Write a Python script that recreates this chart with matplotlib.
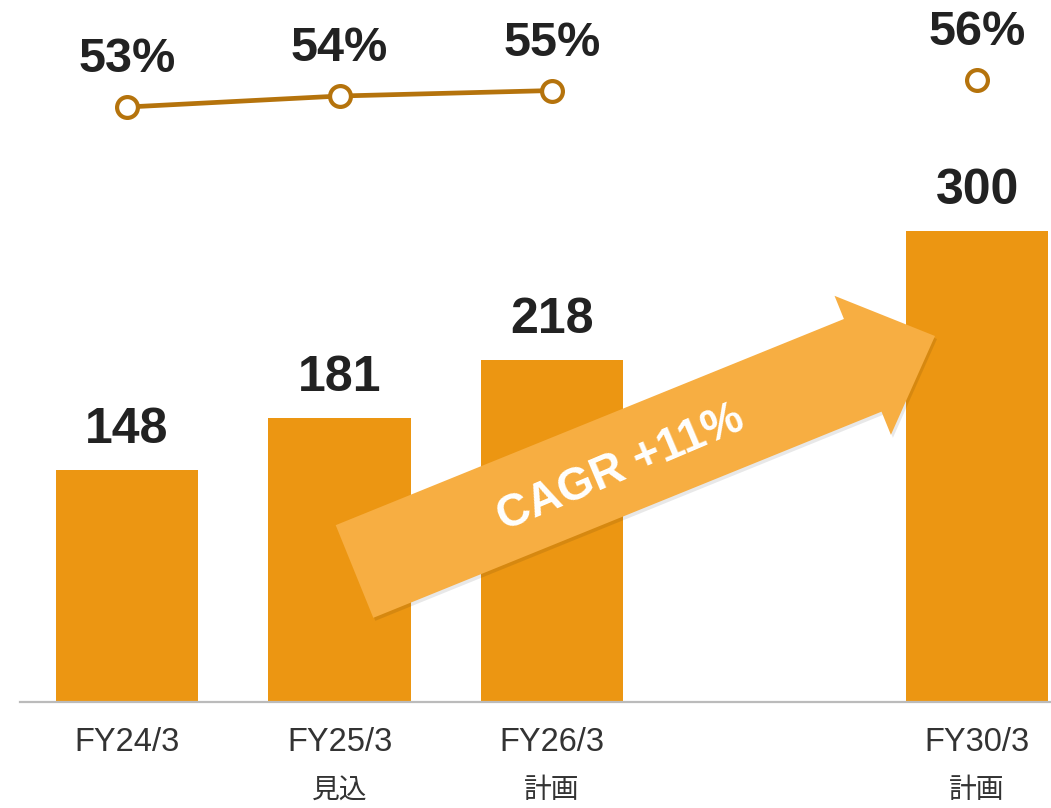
import matplotlib.pyplot as plt
from matplotlib.patches import FancyArrow
from matplotlib.transforms import IdentityTransform

plt.rcParams['font.family'] = ['Liberation Sans', 'Noto Sans CJK JP', 'DejaVu Sans']

# data
periods = ['FY24/3', 'FY25/3', 'FY26/3', 'FY30/3']
notes = ['', '見込', '計画', '計画']
x_pos = [0, 1, 2, 4]
sales = [148, 181, 218, 300]
rates = [53.2, 54.2, 54.7, 55.7]
rate_labels = ['53%', '54%', '55%', '56%']
cagr_text = 'CAGR +11%'

BAR = '#EC9612'
LINE = '#B5730C'
ARROW = '#F7AE42'
TEXT = '#222222'


def main():
    W, H = 1051, 808
    fig = plt.figure(figsize=(W / 100, H / 100), dpi=100)
    ax = fig.add_axes([20 / W, 106 / H, 1031 / W, 702 / H])

    ax.bar(x_pos, sales, width=0.67, color=BAR, zorder=2)
    for x, v in zip(x_pos, sales):
        ax.text(x, v + 25.5, str(v), ha='center', va='center',
                fontsize=36, fontweight='bold', color=TEXT)

    ax.set_xlim(-0.504, 4.348)
    ax.set_ylim(0, 447)
    for s in ['top', 'left', 'right']:
        ax.spines[s].set_visible(False)
    ax.spines['bottom'].set_color('#BBBBBB')
    ax.spines['bottom'].set_linewidth(1.6)
    ax.set_yticks([])
    ax.set_xticks(x_pos)
    ax.set_xticklabels(periods, fontsize=23.5, color='#333333')
    ax.tick_params(axis='x', length=0, pad=18)
    # second line under the period label
    for x, n in zip(x_pos, notes):
        ax.text(x, -0.126, n, transform=ax.get_xaxis_transform(),
                ha='center', va='center', fontsize=20, color='#333333',
                family=['Noto Sans CJK JP', 'DejaVu Sans'])

    # margin ratio line
    ax2 = ax.twinx()
    ax2.set_ylim(-0.89, 62.93)
    ax2.axis('off')
    ax2.plot(x_pos[:3], rates[:3], color=LINE, lw=3.4, marker='o',
             markersize=15, markerfacecolor='white', markeredgewidth=3,
             markeredgecolor=LINE, zorder=3)
    ax2.plot(x_pos[3:], rates[3:], color=LINE, lw=0, marker='o',
             markersize=15, markerfacecolor='white', markeredgewidth=3,
             markeredgecolor=LINE, zorder=3)
    for x, r, lab in zip(x_pos, rates, rate_labels):
        ax2.text(x, r + 4.3, lab, ha='center', va='center',
                 fontsize=35, fontweight='bold', color=TEXT)

    # CAGR arrow (figure pixel coordinates)
    tail = (354.5, H - 571.5)
    tip = (935, H - 336)
    dx, dy = tip[0] - tail[0], tip[1] - tail[1]
    shadow = FancyArrow(tail[0] + 2, tail[1] - 3, dx, dy, width=100,
                        head_width=150, head_length=78,
                        length_includes_head=True, color='#000000',
                        alpha=0.09, lw=0, transform=IdentityTransform(),
                        zorder=4)
    arrow = FancyArrow(tail[0], tail[1], dx, dy, width=100,
                       head_width=150, head_length=78,
                       length_includes_head=True, color=ARROW, lw=0,
                       transform=IdentityTransform(), zorder=5)
    fig.patches.extend([shadow, arrow])
    fig.text(621 / W, 1 - 468 / H, cagr_text, ha='center', va='center',
             rotation=23, rotation_mode='anchor', fontsize=33,
             fontweight='bold', color='white', zorder=6)

    fig.savefig('out.png', dpi=100)


if __name__ == '__main__':
    main()
